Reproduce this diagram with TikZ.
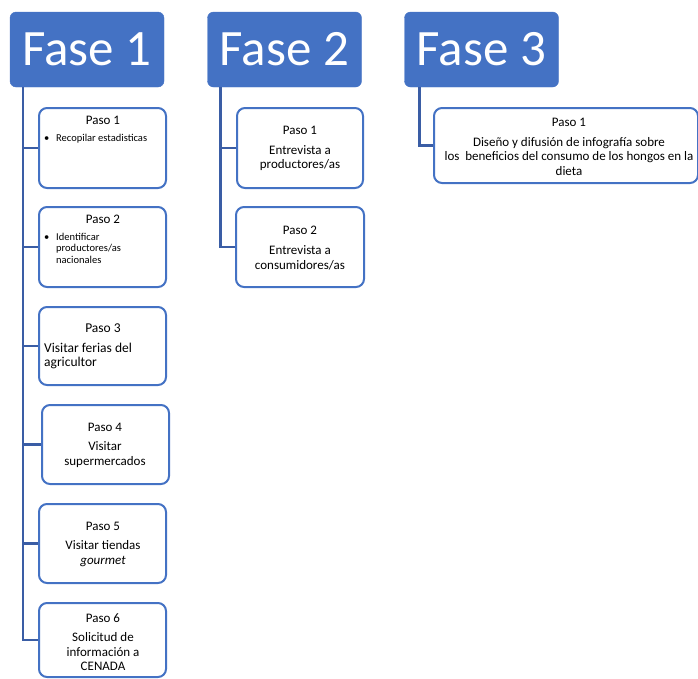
\documentclass[tikz,border=0pt]{standalone}
\usepackage{fontspec}
\setmainfont{Carlito}
\definecolor{boxblue}{HTML}{4472C4}
\definecolor{lineblue}{HTML}{3A5DA5}
\begin{document}
\begin{tikzpicture}[x=1pt,y=-1pt,
 fase/.style={fill=boxblue, draw=boxblue, rounded corners=6pt, minimum width=154pt, minimum height=75pt, text=white, font=\fontsize{51}{60}\selectfont, inner sep=0},
 pasobox/.style={draw=boxblue, line width=2pt, fill=white, rounded corners=8pt, inner sep=0, minimum width=127pt, minimum height=80pt},
 conn/.style={draw=lineblue, line width=2.5pt},
 txt/.style={font=\fontsize{13}{14.5}\selectfont, align=center, inner sep=0},
 bigtxt/.style={font=\fontsize{13.5}{14.5}\selectfont, align=left, inner sep=0},
 small/.style={font=\fontsize{10.5}{11.5}\selectfont, align=left, inner sep=0}]
\useasboundingbox (0,0) rectangle (698,678);
% phase headers
\node[fase] (f1) at (87,49.5) {Fase 1};
\node[fase] (f2) at (284.5,49.5) {Fase 2};
\node[fase] (f3) at (481.5,49.5) {Fase 3};
% Fase 1 steps
\node[pasobox] (a1) at (102.5,148) {};
\node[pasobox] (a2) at (102.5,247) {};
\node[pasobox, minimum height=78pt] (a3) at (102.5,346) {};
\node[pasobox, minimum height=79pt] (a4) at (105.5,444.5) {};
\node[pasobox, minimum height=79pt] (a5) at (102.5,543.5) {};
\node[pasobox, minimum height=74pt] (a6) at (102.5,640) {};
% Fase 2 steps
\node[pasobox, minimum width=126pt] (b1) at (300,148) {};
\node[pasobox, minimum width=128pt] (b2) at (300,247) {};
% Fase 3 step
\node[pasobox, minimum width=264pt, minimum height=75pt] (c1) at (566,145.5) {};
% connectors
\coordinate (t1) at ([xshift=13pt]f1.south west);
\coordinate (t2) at ([xshift=13pt]f2.south west);
\coordinate (t3) at ([xshift=15pt]f3.south west);
\draw[conn] (t1) |- (a6.west);
\foreach \n in {a1,a2,a3,a4,a5} \draw[conn] (t1 |- \n.west) -- (\n.west);
\draw[conn] (t2) |- (b2.west);
\draw[conn] (t2 |- b1.west) -- (b1.west);
\draw[conn] (t3) |- (c1.west);
% texts Fase 1
\node[txt] (a1h) at (103,120) {Paso 1};
\node[small, anchor=west] (a1d) at (44,139) {\textbullet};
\node[small, anchor=west] (a1t) at (56,139) {Recopilar estadisticas};
\node[txt] (a2h) at (103,219) {Paso 2};
\node[small, anchor=west] (a2d) at (44,238) {\textbullet};
\node[small, anchor=north west] (a2t) at (56,233) {Identificar\\productores/as\\nacionales};
\node[txt, font=\fontsize{13.5}{14.5}\selectfont] (a3h) at (103,328) {Paso 3};
\node[bigtxt, anchor=west] (a3t) at (44,356) {Visitar ferias del\\agricultor};
\node[txt] (a4h) at (105,427) {Paso 4};
\node[txt] (a4t) at (105,454.5) {Visitar\\supermercados};
\node[txt] (a5h) at (103,526) {Paso 5};
\node[txt] (a5t) at (103,553.5) {Visitar tiendas\\\textit{gourmet}};
\node[txt] (a6h) at (103,618) {Paso 6};
\node[txt] (a6t) at (103,652) {Solicitud de\\información a\\CENADA};
% texts Fase 2
\node[txt] (b1h) at (300,130) {Paso 1};
\node[txt] (b1t) at (300,158) {Entrevista a\\productores/as};
\node[txt] (b2h) at (300,230) {Paso 2};
\node[txt] (b2t) at (300,258) {Entrevista a\\consumidores/as};
% texts Fase 3
\node[txt] (c1h) at (569,122) {Paso 1};
\node[txt] (c1t) at (569,156.5) {Diseño y difusión de infografía sobre\\los\ \ beneficios del consumo de los hongos en la\\dieta};
\end{tikzpicture}
\end{document}
